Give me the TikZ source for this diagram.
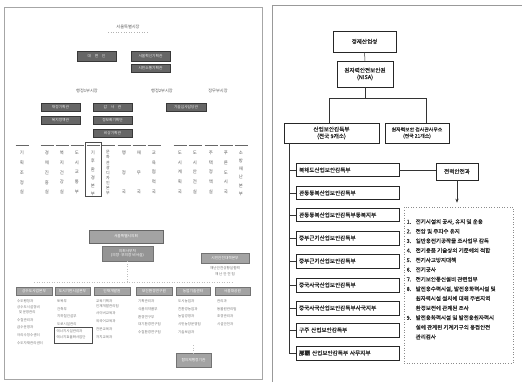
\documentclass[tikz,border=0pt]{standalone}
\usepackage{fontspec}
\setmainfont{Noto Sans CJK KR}
\newfontfamily\krb[FakeBold=1.5]{Noto Sans CJK KR}
\newfontfamily\krm[FakeBold=0.6]{Noto Sans CJK KR}
\usetikzlibrary{arrows.meta}
\begin{document}
\begin{tikzpicture}[x=1pt,y=-1pt,
  rb/.style={draw=black!85, line width=0.5pt, fill=white, inner sep=0pt, align=center,
    font=\krm\fontsize{5.6}{6.8}\selectfont, text=black!85},
  sb/.style={rb, minimum width=103pt, minimum height=13.5pt, text width=97pt, align=left},
  db/.style={fill=black!60, draw=black!78, line width=0.4pt, text=black!8,
    font=\fontsize{3.7}{4}\selectfont, inner sep=0pt, minimum width=39pt, minimum height=8pt},
  gb/.style={fill=black!36, draw=black!55, line width=0.6pt, text=white,
    font=\fontsize{3.7}{4.6}\selectfont, inner sep=0pt, align=center},
  tt/.style={font=\fontsize{4.2}{5}\selectfont, text=black!65, inner sep=0pt},
  ct/.style={font=\fontsize{4.4}{9.8}\selectfont, text=black!65, inner sep=0pt, align=center, anchor=north},
  lt/.style={font=\fontsize{3.5}{7.7}\selectfont, text=black!55, inner sep=0pt, align=left, anchor=north west},
  link/.style={draw=black!80, line width=0.5pt},
  faint/.style={draw=black!25, dotted, line width=0.5pt},
  dashline/.style={draw=black!60, line width=0.8pt}
]
\useasboundingbox (0,0) rectangle (522,382);

% ---------------- panel frames ----------------
\draw[black!35, line width=0.6pt] (4,7) rectangle (262,379);
\draw[black!40, line width=0.6pt] (272,382) -- (272,5) -- (522,5);

% ---------------- LEFT PANEL ----------------
\node[tt] (mayor) at (128,27) {서울특별시장};
\coordinate (mu1) at (108,32);
\coordinate (mu2) at (148,32);
\draw[black!30, dotted, line width=0.6pt] (mu1) -- (mu2);

\node[db, minimum height=10pt] (d1) at (96.5,56) {대\quad 변\quad 인};
\node[db, minimum height=10pt] (d2) at (150.5,56) {서울혁신기획관};
\node[db, minimum height=8.5pt] (d3) at (150.5,68) {시민소통기획관};

\node[tt] (v1) at (87,91) {행정1부시장};
\node[tt] (v2) at (162,91) {행정2부시장};
\node[tt] (v3) at (218,91) {정무부시장};

\node[db] (d4) at (60.5,107) {재정기획관};
\node[db] (d5) at (60.5,120) {복지정책관};
\node[db] (d6) at (112.5,107) {감\quad 사\quad 관};
\node[db] (d7) at (112.5,120) {정보화기획단};
\node[db] (d8) at (112.5,133) {비상기획관};
\node[db, minimum width=40pt] (d9) at (186,107) {기술심사담당관};

% bureau dashes
\foreach \x in {22,47,62,77,93,108,124,139,154,180,195,211,226,241}
  \draw[dashline] (\x-6.5,145) -- (\x+6.5,145);

% bureau columns
\node[ct] (c1) at (22,150.8) {기\\획\\조\\정\\실};
\node[ct] (c2) at (47,150.8) {경\\제\\진\\흥\\실};
\node[ct] (c3) at (62,150.8) {복\\지\\건\\강\\실};
\node[ct] (c4) at (77,150.8) {도\\시\\교\\통\\부};
\node[ct, font=\fontsize{4.4}{8.2}\selectfont] (c5) at (93,150.8) {기\\후\\환\\경\\본\\부};
\node[draw=black!70, line width=1pt, minimum width=16pt, minimum height=54pt, inner sep=0pt] (c5box) at (93,170) {};
\node[ct, font=\fontsize{4}{5.1}\selectfont] (c6) at (108,150.5) {문\\화\\관\\광\\디\\자\\인\\본\\부};
\node[ct, font=\fontsize{4.4}{19.6}\selectfont] (c7) at (124,150.8) {행\\정\\국};
\node[ct, font=\fontsize{4.4}{19.6}\selectfont] (c8) at (139,150.8) {재\\무\\국};
\node[ct] (c9) at (154,150.8) {교\\육\\협\\력\\국};
\node[ct] (c10) at (180,150.8) {도\\시\\계\\획\\국};
\node[ct] (c11) at (195,150.8) {도\\시\\안\\전\\실};
\node[ct] (c12) at (211,150.8) {주\\택\\정\\책\\실};
\node[ct] (c13) at (226,150.8) {푸\\른\\도\\시\\국};
\node[ct, font=\fontsize{4.4}{8.2}\selectfont] (c14) at (241,150.8) {소\\방\\재\\난\\본\\부};

% lower section
\node[gb, minimum width=74pt, minimum height=13pt, draw=black!60, line width=0.8pt] (l1) at (126,236.5) {서울특별시의회};
\node[gb, minimum width=51pt, minimum height=15pt, fill=black!42] (l2) at (127.5,253.5) {의회사무처\\(의장·부의장 비서실)};
\node[gb, minimum width=48pt, minimum height=10pt] (r1) at (225,258) {시민안전대책본부};
\node[tt, font=\fontsize{3.6}{6}\selectfont, align=center, text=black!55] (r1t) at (225,271) {재난안전상황실협력\\재\ 난\ 안\ 전\ 팀};

\coordinate (bus1) at (34,282);
\coordinate (bus2) at (232,282);
\draw[faint] (l2.south) -- (l2.south |- bus1);
\draw[faint] (bus1) -- (bus2);

\node[gb, minimum width=36pt, minimum height=8pt] (g1) at (34,291) {상수도사업본부};
\node[gb, minimum width=35pt, minimum height=8pt] (g2) at (72.5,291) {도시기반시설본부};
\node[gb, minimum width=36pt, minimum height=8pt] (g3) at (112,291) {인재개발원};
\node[gb, minimum width=36pt, minimum height=8pt] (g4) at (154,291) {보건환경연구원};
\node[gb, minimum width=34pt, minimum height=8pt] (g5) at (193,291) {농업기술센터};
\node[gb, minimum width=35pt, minimum height=8pt] (g6) at (232.5,291) {서울대공원};

\node[lt] (gl1) at (17,299.5) {수도행정과\\[-2.2pt]상수도시설정비\\[-2.2pt]\ \ 및\ 운영관리\\수질관리과\\급수운영과\\아리수정수센터\\수도자재관리센터};
\node[lt] (gl2) at (57,299.5) {토목부\\건축부\\지하철건설부\\도로시설관리};
\node[lt] (gl2b) at (56.5,329) {에너지시설관리과\\[-0.8pt]에너지효율화사업단};
\node[draw=black!70, line width=1pt, minimum width=38pt, minimum height=16pt, inner sep=0pt] (hl2) at (73,335) {};
\node[lt] (gl3) at (96,299) {교육기획과\\[-2.6pt]인재개발관리팀\\사이버교육과\\외국어교육과\\전문교육과\\자치교육과};
\node[lt] (gl4) at (138,299.5) {기획관리과\\식품의약품부\\환경연구부\\대기환경연구팀\\수질환경연구팀};
\node[lt] (gl5) at (178,299.5) {도시농업과\\친환경농업과\\농업경영과\\시민농장운영팀\\기술보급과};
\node[lt] (gl6) at (217,299.5) {관리과\\동물원관리팀\\조경관리과\\시설안전과};

\node[gb, minimum width=35pt, minimum height=14pt] (bot) at (193.5,360) {합의제행정기관};
\coordinate (fv) at (193.5,345);
\draw[faint] (fv) -- (bot.north);

% ---------------- RIGHT PANEL ----------------
\node[rb, minimum width=63pt, minimum height=21pt] (meti) at (364.5,41.5) {경제산업성};
\node[rb, minimum width=56pt, minimum height=26pt] (nisa) at (365,74) {원자력안전보안원\\(NISA)};
\node[rb, minimum width=95pt, minimum height=20pt] (sanup) at (331.5,133) {산업보안감독부\\(전국 9개소)};
\node[rb, minimum width=64pt, minimum height=20pt, font=\krm\fontsize{4.9}{6.4}\selectfont] (gumsa) at (417,133) {원자력보안 검사관사무소\\(전국 21개소)};

\coordinate (jL) at (329,98);
\coordinate (jR) at (426,98);
\draw[link] (meti.south) -- (nisa.north);
\draw[link] (nisa.south) -- (nisa.south |- jL);
\draw[link] (jL |- sanup.north) -- (jL) -- (jR) -- (jR |- gumsa.north);

\node[sb] (s1) at (347.5,170) {북해도산업보안감독부};
\node[sb] (s2) at (347.5,193) {관동동북산업보안감독부};
\node[sb] (s3) at (347.5,215) {관동동북산업보안감독부동북지부};
\node[sb] (s4) at (347.5,238) {중부근기산업보안감독부};
\node[sb] (s5) at (347.5,261) {중부근기산업보안감독부};
\node[sb] (s6) at (347.5,285) {중국사국산업보안감독부};
\node[sb] (s7) at (347.5,308) {중국사국산업보안감독부사국지부};
\node[sb] (s8) at (347.5,330) {구주\ 산업보안감독부};
\node[sb] (s9) at (347.5,353) {{\krb 那覇}\ 산업보안감독부\ 사무지부};

\coordinate (tr) at (289,143);
\draw[link] (tr) -- (tr |- s9.west) -- (s9.west);
\foreach \i in {1,...,8}
  \draw[link] (tr |- s\i.west) -- (s\i.west);

\node[rb, minimum width=42pt, minimum height=17pt] (power) at (457,171.5) {전력안전과};
\draw[link] (s1.east) -- (s1.east -| power.west);

\node[draw=black!45, dotted, line width=0.6pt, minimum width=109pt, minimum height=156pt, inner sep=0pt] (dutybox) at (458.5,285) {};
\draw[link, -{Stealth[length=4pt,width=3.2pt]}, shorten >=4pt] (power.south) -- (power.south |- dutybox.north);

\node[anchor=north west, font=\krm\fontsize{5.5}{9.6}\selectfont, align=left, inner sep=0pt, text=black!85] (duty) at (406.5,219) {%
\makebox[9pt][l]{1.}전기시설의 공사, 유지 및 운용\\
\makebox[9pt][l]{2.}전압 및 주파수 유지\\
\makebox[9pt][l]{3.}일반용전기공작물 조사업무 감독\\
\makebox[9pt][l]{4.}전기용품 기술상의 기준에의 적합\\
\makebox[9pt][l]{5.}전기사고방지대책\\
\makebox[9pt][l]{6.}전기공사\\
\makebox[9pt][l]{7.}전기보안통신설비 관련업무\\
\makebox[9pt][l]{8.}발전용수력시설, 발전용화력시설 및\\
\hspace*{9pt}원자력시설 설치에 대해 주변지역\\
\hspace*{9pt}환경보전에 관계된 조사\\
\makebox[9pt][l]{9.}발전용화력시설 및 발전용원자력시\\
\hspace*{9pt}설에 관계된 기계기구의 용접안전\\
\hspace*{9pt}관리검사};

\end{tikzpicture}
\end{document}
